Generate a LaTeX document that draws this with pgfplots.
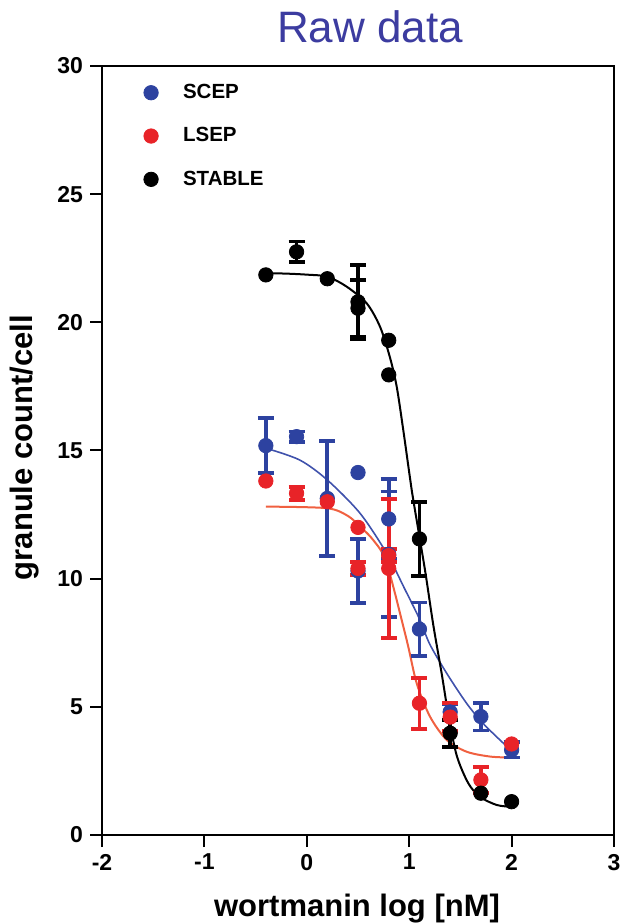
\documentclass[border=0pt]{standalone}
\usepackage{pgfplots}
\pgfplotsset{compat=1.18}
\usepackage{fontspec}
\setmainfont{Liberation Sans}
\definecolor{blueM}{RGB}{45,66,160}
\definecolor{redM}{RGB}{232,35,40}
\definecolor{blueC}{RGB}{64,82,172}
\definecolor{redC}{RGB}{240,96,64}
\definecolor{titleC}{RGB}{60,60,160}
\begin{document}
\begin{tikzpicture}
\path[use as bounding box] (-51pt,-44.5pt) rectangle (259.5pt,417.5pt);
\begin{axis}[
  scale only axis, width=256pt, height=384.5pt,
  at={(0pt,0pt)}, anchor=south west,
  xmin=-2, xmax=3, ymin=0, ymax=30,
  xtick={-2,-1,0,1,2,3}, xticklabels={-2,-1,0,1,2,3},
  ytick={0,5,10,15,20,25,30}, yticklabels={0,5,10,15,20,25,30},
  xtick pos=bottom, ytick pos=left,
  tick align=outside, major tick length=6pt,
  tick style={line width=1pt, black},
  axis line style={line width=1pt},
  ticklabel style={font=\fontsize{11.5}{12}\selectfont\bfseries},
  clip=false,
  legend style={draw=none, fill=none, at={(0.081,0.977)}, anchor=north west,
    font=\fontsize{10.25}{11}\selectfont\bfseries, row sep=13pt, inner sep=0pt,
    nodes={inner xsep=2pt, inner ysep=0pt}},
  legend cell align=left,
  legend image code/.code={\draw[#1] plot coordinates {(0pt,0pt)}; \path[draw=none,fill=none] (-3.6pt,0pt) -- (14pt,0pt);},
]
% fitted curves
\addplot[blueC, line width=0.8pt, smooth, forget plot] coordinates {
(-0.40,15.09) (-0.07,14.63) (0.20,13.85) (0.52,12.55) (0.78,10.99) (0.95,9.65) (1.105,8.39) (1.20,7.45) (1.366,6.31) (1.56,5.14) (1.72,4.36) (1.92,3.58) (2.00,3.32)};
\addplot[redC, line width=1pt, smooth, forget plot] coordinates {
(-0.40,12.81) (0.194,12.75) (0.40,12.45) (0.52,12.03) (0.65,11.5) (0.78,10.6) (0.975,7.61) (1.073,5.92) (1.203,4.62) (1.366,3.71) (1.56,3.25) (1.79,3.06) (2.00,3.02)};
\addplot[black, line width=1pt, smooth, forget plot] coordinates {
(-0.41,21.92) (-0.2,21.9) (0.0,21.86) (0.2,21.78) (0.39,21.39) (0.585,20.74) (0.715,19.83) (0.81,18.66) (0.878,17.49) (0.942,15.8) (1.008,13.92) (1.04,13.07) (1.154,10.34) (1.235,8.2) (1.317,6.3) (1.382,4.7) (1.464,3.1) (1.577,2.02) (1.691,1.49) (1.855,1.17) (2.0,1.1)};
% SCEP
\addplot[only marks, mark=*, mark size=3.6pt, blueM] coordinates {
(0.5,14.14)};
\addlegendentry{SCEP}
\addplot[only marks, mark=*, mark size=3.6pt, blueM, forget plot,
  error bars/.cd, y dir=both, y explicit,
  error bar style={line width=1.8pt},
  error mark options={rotate=90, mark size=4pt, line width=1.9pt, blueM}] coordinates {
(-0.4,15.19) +- (0,1.07)
(-0.1,15.54) +- (0,0.2)
(0.2,13.13) +- (0,2.25)
(0.5,10.3) +- (0,1.25)
(0.8,12.33) +- (0,1.55)
(0.8,10.95) +- (0,2.45)
(1.1,8.03) +- (0,1.04)
(1.4,4.8) +- (0,0.3)
(1.7,4.62) +- (0,0.54)
(2.0,3.32) +- (0,0.3)};
% LSEP
\addplot[only marks, mark=*, mark size=3.6pt, redM] coordinates {
(-0.4,13.81) (0.2,13.0) (0.5,12.0) (2.0,3.55)};
\addlegendentry{LSEP}
\addplot[only marks, mark=*, mark size=3.6pt, redM, forget plot,
  error bars/.cd, y dir=both, y explicit,
  error bar style={line width=1.8pt},
  error mark options={rotate=90, mark size=4pt, line width=1.9pt, redM}] coordinates {
(-0.1,13.33) +- (0,0.25)
(0.5,10.4) +- (0,0.25)
(0.8,10.9) +- (0,0.25)
(0.8,10.4) +- (0,2.7)
(1.1,5.14) +- (0,1.0)
(1.4,4.6) +- (0,0.55)
(1.7,2.15) +- (0,0.5)};
% STABLE
\addplot[only marks, mark=*, mark size=3.6pt, black] coordinates {
(-0.4,21.85) (0.2,21.7) (0.8,19.3) (0.8,17.95) (1.7,1.63) (2.0,1.30)};
\addlegendentry{STABLE}
\addplot[only marks, mark=*, mark size=3.6pt, black, forget plot,
  error bars/.cd, y dir=both, y explicit,
  error bar style={line width=1.8pt},
  error mark options={rotate=90, mark size=4pt, line width=1.9pt, black}] coordinates {
(-0.1,22.75) +- (0,0.4)
(0.5,20.8) +- (0,1.45)
(0.5,20.55) +- (0,1.1)
(1.1,11.55) +- (0,1.45)
(1.4,3.97) +- (0,0.53)};
\end{axis}
\node[anchor=base, font=\fontsize{22}{24}\selectfont, text=titleC] at (134pt,396pt) {Raw data};
\node[anchor=base, font=\fontsize{15.5}{16}\selectfont\bfseries] at (127.5pt,-40.5pt) {wortmanin log [nM]};
\node[anchor=base, rotate=90, font=\fontsize{15.5}{16}\selectfont\bfseries] at (-34.5pt,193.75pt) {granule count/cell};
\end{tikzpicture}
\end{document}
